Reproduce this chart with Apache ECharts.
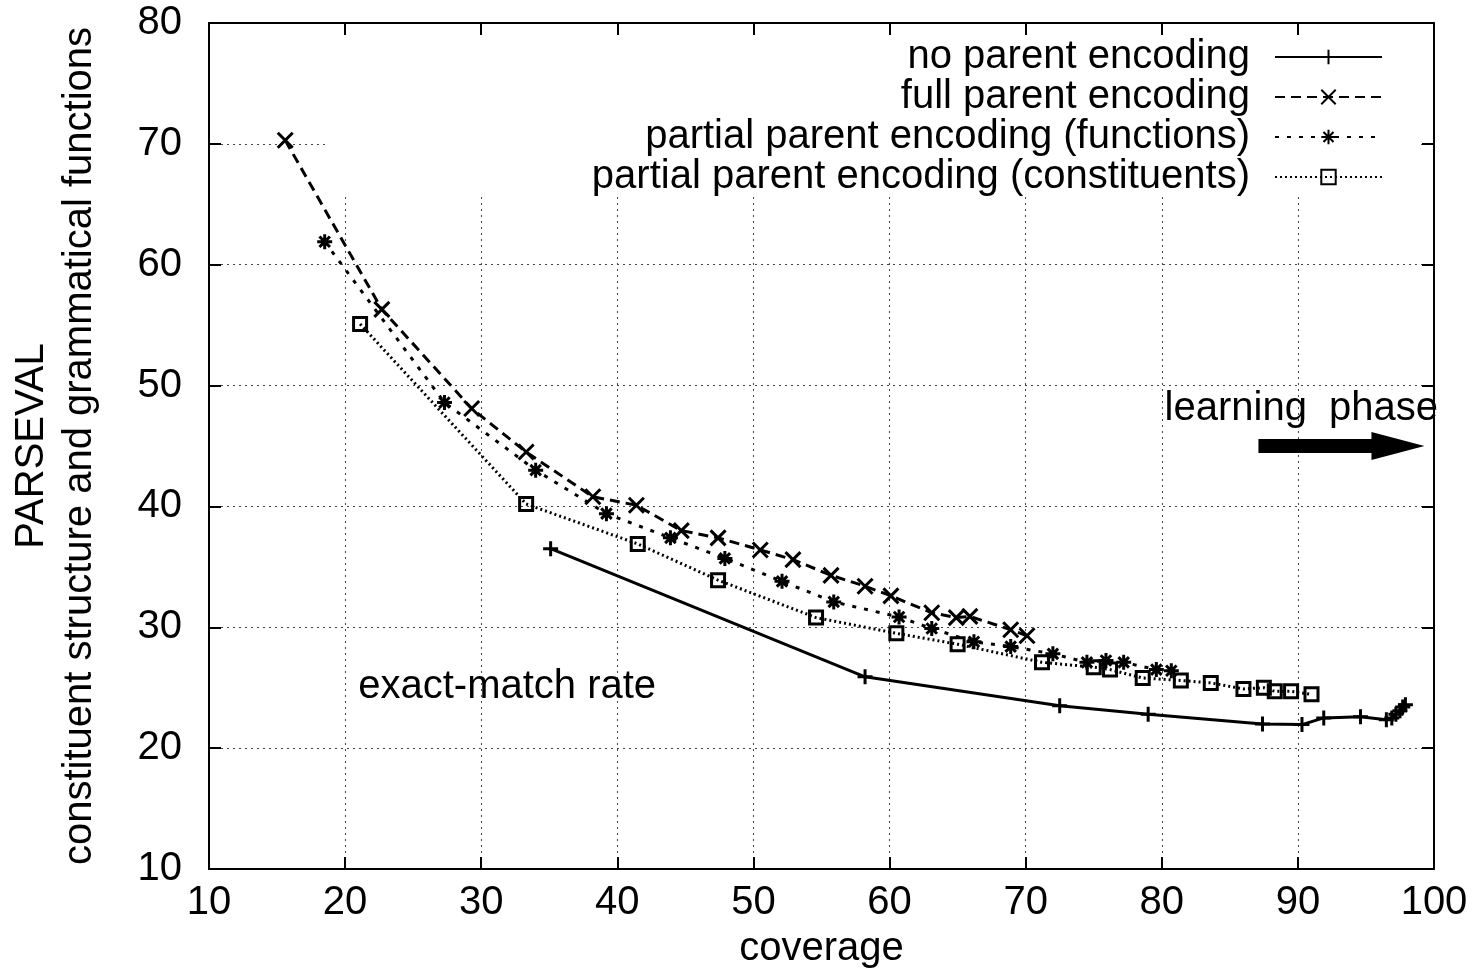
<!DOCTYPE html>
<html>
<head>
<meta charset="utf-8">
<script src="https://cdn.jsdelivr.net/npm/echarts@6/dist/echarts.min.js"></script>
<style>
  html, body { margin: 0; padding: 0; background: #fff; }
  #chart { width: 1473px; height: 974px; }
</style>
</head>
<body>
<div id="chart"></div>
<script>
var font = "'Liberation Sans', Arial, Helvetica, sans-serif";

// series names as in the key
var names = [
    'no parent encoding',
    'full parent encoding',
    'partial parent encoding (functions)',
    'partial parent encoding (constituents)'
];

// [coverage, PARSEVAL]
var noParent = [[35.1, 36.5], [58.2, 25.9], [72.5, 23.5], [79.0, 22.8], [87.4, 22.0],
    [90.3, 21.95], [91.9, 22.5], [94.6, 22.6], [96.5, 22.35], [96.9, 22.5],
    [97.2, 22.8], [97.5, 23.1], [97.7, 23.4], [97.9, 23.6]];
var fullParent = [[15.6, 70.3], [22.7, 56.3], [29.3, 48.1], [33.3, 44.5], [38.2, 40.8],
    [41.4, 40.1], [44.7, 38.0], [47.4, 37.4], [50.5, 36.4], [52.9, 35.6], [55.7, 34.3],
    [58.2, 33.4], [60.1, 32.6], [63.1, 31.2], [64.9, 30.8], [65.9, 30.9], [68.9, 29.8],
    [70.1, 29.3]];
var partialFunctions = [[18.5, 61.9], [27.3, 48.6], [34.0, 43.0], [39.2, 39.4], [43.9, 37.4],
    [47.9, 35.7], [52.1, 33.8], [55.9, 32.1], [60.7, 30.85], [63.1, 29.9], [66.2, 28.8],
    [68.9, 28.4], [72.0, 27.8], [74.5, 27.1], [75.9, 27.25], [77.2, 27.1], [79.6, 26.5],
    [80.7, 26.4]];
var partialConstituents = [[21.1, 55.1], [33.3, 40.2], [41.5, 36.9], [47.4, 33.9], [54.6, 30.8],
    [60.5, 29.5], [65.0, 28.6], [71.2, 27.1], [75.0, 26.7], [76.2, 26.5], [78.6, 25.8],
    [81.4, 25.6], [83.6, 25.4], [86.0, 24.9], [87.5, 25.0], [88.3, 24.7], [89.5, 24.7],
    [91.0, 24.45]];

// text labels inside the plot and the arrow anchor
var notes = [
    { value: [20.96, 25.04], name: 'exact-match rate' },
    { value: [80.2, 48.1], name: 'learning  phase' }
];
var arrowAt = [[93.2, 45.0]];

var plusSym = 'path://M0,5L10,5M5,0L5,10';
var crossSym = 'path://M0,0L10,10M10,0L0,10';
var starSym = 'path://M0,5L10,5M5,0L5,10M1.5,1.5L8.5,8.5M8.5,1.5L1.5,8.5';
var boxSym = 'path://M0,0L10,0L10,10L0,10Z';
var arrowSym = 'path://M0,7L113,7L113,0L166,14L113,28L113,21L0,21Z';

function lineSeries(name, data, sym, size, dash) {
    return {
        name: name,
        type: 'line',
        data: data,
        symbol: sym,
        symbolSize: size,
        showSymbol: true,
        showAllSymbol: true,
        lineStyle: { color: '#000', width: 3, type: dash },
        itemStyle: { color: 'rgba(0,0,0,0)', borderColor: '#000', borderWidth: 3 },
        emphasis: { disabled: true },
        z: 2
    };
}

var myChart = echarts.init(document.getElementById('chart'));

myChart.setOption({
    animation: false,
    backgroundColor: '#fff',
    textStyle: { fontFamily: font, color: '#000' },
    grid: { left: 208, right: 39, top: 23, bottom: 104 },
    legend: {
        data: names,
        orient: 'vertical',
        align: 'right',
        right: 52,
        top: 23,
        padding: [14, 38, 0, 263],
        backgroundColor: '#fff',
        itemGap: 0,
        itemWidth: 107,
        itemHeight: 18,
        selectedMode: false,
        textStyle: { fontSize: 40, lineHeight: 40, color: '#000', fontFamily: font, padding: [0, 20, 0, 0] }
    },
    xAxis: [
        {
            type: 'value', min: 10, max: 100, interval: 10, position: 'bottom',
            name: 'coverage', nameLocation: 'middle', nameGap: 60,
            nameTextStyle: { fontSize: 40, color: '#000', fontFamily: font },
            axisLine: { show: true, lineStyle: { color: '#000', width: 2 } },
            axisTick: { show: true, inside: true, length: 12, lineStyle: { color: '#000', width: 2 } },
            axisLabel: { fontSize: 40, color: '#000', margin: 14, fontFamily: font },
            splitLine: { show: true, lineStyle: { color: '#444', width: 1, type: [2, 4] } }
        },
        {
            type: 'value', min: 10, max: 100, interval: 10, position: 'top', z: 5,
            axisLine: { show: true, lineStyle: { color: '#000', width: 2 } },
            axisTick: { show: true, inside: true, length: 12, lineStyle: { color: '#000', width: 2 } },
            axisLabel: { show: false },
            splitLine: { show: false }
        }
    ],
    yAxis: [
        {
            type: 'value', min: 10, max: 80, interval: 10, position: 'left',
            name: 'PARSEVAL\nconstituent structure and grammatical functions',
            nameLocation: 'middle', nameGap: 105,
            nameTextStyle: { fontSize: 40, lineHeight: 48, color: '#000', fontFamily: font, align: 'center' },
            axisLine: { show: true, lineStyle: { color: '#000', width: 2 } },
            axisTick: { show: true, inside: true, length: 12, lineStyle: { color: '#000', width: 2 } },
            axisLabel: { fontSize: 40, color: '#000', margin: 27, fontFamily: font },
            splitLine: { show: true, lineStyle: { color: '#444', width: 1, type: [2, 4] } }
        },
        {
            type: 'value', min: 10, max: 80, interval: 10, position: 'right', z: 5,
            axisLine: { show: true, lineStyle: { color: '#000', width: 2 } },
            axisTick: { show: true, inside: true, length: 12, lineStyle: { color: '#000', width: 2 } },
            axisLabel: { show: false },
            splitLine: { show: false }
        }
    ],
    series: [
        lineSeries(names[0], noParent, plusSym, 15, 'solid'),
        lineSeries(names[1], fullParent, crossSym, 15, [10, 6]),
        lineSeries(names[2], partialFunctions, starSym, 15, [4, 8]),
        lineSeries(names[3], partialConstituents, boxSym, 13, [2, 3]),
        {
            name: 'notes',
            type: 'scatter',
            data: notes,
            symbolSize: 0.1,
            itemStyle: { color: 'rgba(0,0,0,0)', opacity: 1 },
            label: {
                show: true, position: 'right', distance: 0, formatter: '{b}',
                fontSize: 40, color: '#000', fontFamily: font, opacity: 1
            },
            silent: true,
            z: 3
        },
        {
            name: 'arrow',
            type: 'scatter',
            data: arrowAt,
            symbol: arrowSym,
            symbolSize: [166, 28],
            itemStyle: { color: '#000', opacity: 1 },
            silent: true,
            z: 3
        }
    ]
});
</script>
</body>
</html>
